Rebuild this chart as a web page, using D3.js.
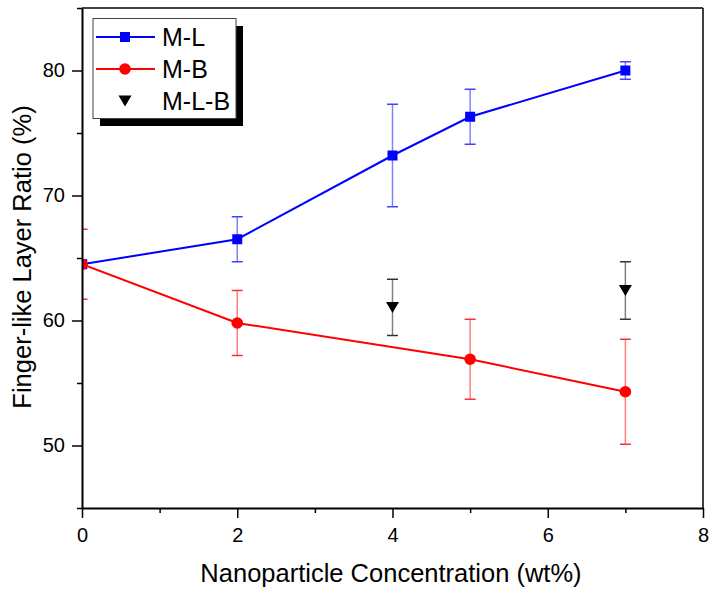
<!DOCTYPE html>
<html><head><meta charset="utf-8">
<script src="https://cdn.jsdelivr.net/npm/d3@7"></script>
<style>body{margin:0;background:#fff}svg{display:block;font-family:Arial,"Liberation Sans",sans-serif}</style>
</head><body><svg id="c" width="709" height="590"></svg>
<script>
const xML = [0, 2, 4, 5, 7];
const yML = [64.5, 66.5, 73.2, 76.3, 80.0];
const eML = [0.3, 1.8, 4.1, 2.2, 0.7];
const xMB = [0, 2, 5, 7];
const yMB = [64.5, 59.8, 56.9, 54.3];
const eMB = [2.8, 2.6, 3.2, 4.2];
const xMLB = [4, 7];
const yMLB = [61.05, 62.4];
const eMLB = [2.25, 2.3];
const xTicks = [0, 2, 4, 6, 8];
const xMinor = [1, 3, 5, 7];
const yTicks = [50, 60, 70, 80];
const yMinor = [45, 55, 65, 75, 85];
const seriesNames = ["M-L", "M-B", "M-L-B"];

const svg = d3.select("#c");
const L = 82, R = 703, T = 8, B = 508;
const x = d3.scaleLinear().domain([0, 8]).range([L, R]);
const y = d3.scaleLinear().domain([45, 85]).range([B, T]);

svg.append("defs").append("clipPath").attr("id", "clip")
  .append("rect").attr("x", L).attr("y", T).attr("width", R - L).attr("height", B - T);

const plot = svg.append("g").attr("clip-path", "url(#clip)");

function series(xs, ys, es, color, lineColor, capColor, marker, drawLine) {
  const g = plot.append("g");
  xs.forEach((xv, i) => {
    g.append("line").attr("x1", x(xv)).attr("x2", x(xv))
      .attr("y1", y(ys[i] - es[i])).attr("y2", y(ys[i] + es[i]))
      .attr("stroke", lineColor).attr("stroke-width", 1.5);
    [ys[i] - es[i], ys[i] + es[i]].forEach(v => {
      g.append("line").attr("x1", x(xv) - 5.5).attr("x2", x(xv) + 5.5)
        .attr("y1", y(v)).attr("y2", y(v)).attr("stroke", capColor).attr("stroke-width", 1.5);
    });
  });
  if (drawLine) {
    g.append("path").datum(xs.map((d, i) => [d, ys[i]]))
      .attr("d", d3.line().x(d => x(d[0])).y(d => y(d[1])))
      .attr("fill", "none").attr("stroke", color).attr("stroke-width", 2);
  }
  xs.forEach((xv, i) => marker(g, x(xv), y(ys[i])));
}
const square = c => (g, cx, cy) => g.append("rect").attr("x", cx - 5).attr("y", cy - 5).attr("width", 10).attr("height", 10).attr("fill", c);
const circle = c => (g, cx, cy) => g.append("circle").attr("cx", cx).attr("cy", cy).attr("r", 5.8).attr("fill", c);
const tri = c => (g, cx, cy) => g.append("path").attr("d", `M${cx - 6.5},${cy - 5.5}L${cx + 6.5},${cy - 5.5}L${cx},${cy + 5.5}Z`).attr("fill", c);

series(xML, yML, eML, "#0000ff", "#8080ff", "#4040ff", square("#0000ff"), true);
series(xMB, yMB, eMB, "#ff0000", "#ff8080", "#ff3030", circle("#ff0000"), true);
series(xMLB, yMLB, eMLB, "#000", "#808080", "#333", tri("#000"), false);

// frame
svg.append("line").attr("x1", L).attr("x2", R).attr("y1", T).attr("y2", T).attr("stroke", "#000").attr("stroke-width", 1.5);
svg.append("line").attr("x1", R).attr("x2", R).attr("y1", T).attr("y2", B).attr("stroke", "#000").attr("stroke-width", 1.5);

// axes
const xAxis = svg.append("g").attr("transform", `translate(0,${B})`)
  .call(d3.axisBottom(x).tickValues(xTicks).tickFormat(d3.format("d")).tickSize(10).tickSizeOuter(0));
svg.append("g").attr("transform", `translate(0,${B})`)
  .call(d3.axisBottom(x).tickValues(xMinor).tickFormat("").tickSize(5).tickSizeOuter(0))
  .call(g => g.select(".domain").remove());
const yAxis = svg.append("g").attr("transform", `translate(${L},0)`)
  .call(d3.axisLeft(y).tickValues(yTicks).tickFormat(d3.format("d")).tickSize(10).tickSizeOuter(0));
svg.append("g").attr("transform", `translate(${L},0)`)
  .call(d3.axisLeft(y).tickValues(yMinor).tickFormat("").tickSize(5).tickSizeOuter(0))
  .call(g => g.select(".domain").remove());
svg.selectAll(".domain").attr("stroke-width", 2);
svg.selectAll(".tick line").attr("stroke-width", 1.5);
xAxis.selectAll("text").attr("font-size", 20).attr("font-family", "Arial,'Liberation Sans'").attr("fill", "#000").attr("dy", null).attr("y", 34);
yAxis.selectAll("text").attr("font-size", 20).attr("font-family", "Arial,'Liberation Sans'").attr("fill", "#000").attr("x", -17);

svg.append("text").attr("x", (199 + 583) / 2).attr("y", 582).attr("text-anchor", "middle")
  .attr("font-size", 25.5).text("Nanoparticle Concentration (wt%)");
svg.append("text").attr("transform", "translate(31,257) rotate(-90)").attr("text-anchor", "middle")
  .attr("font-size", 25.5).text("Finger-like Layer Ratio (%)");

// legend
const lg = svg.append("g");
lg.append("rect").attr("x", 100).attr("y", 26).attr("width", 143).attr("height", 100).attr("fill", "#000");
lg.append("rect").attr("x", 93).attr("y", 18.5).attr("width", 143).attr("height", 100).attr("fill", "#fff").attr("stroke", "#444").attr("stroke-width", 1);
const rows = [37, 69, 101];
const lcols = ["#0000ff", "#ff0000", null];
const lmarks = [square("#0000ff"), circle("#ff0000"), tri("#000")];
seriesNames.forEach((n, i) => {
  if (lcols[i]) lg.append("line").attr("x1", 96).attr("x2", 155).attr("y1", rows[i]).attr("y2", rows[i]).attr("stroke", lcols[i]).attr("stroke-width", 2);
  lmarks[i](lg, 125, rows[i]);
  lg.append("text").attr("x", 162).attr("y", rows[i] + 9).attr("font-size", 25).text(n);
});
</script></body></html>
